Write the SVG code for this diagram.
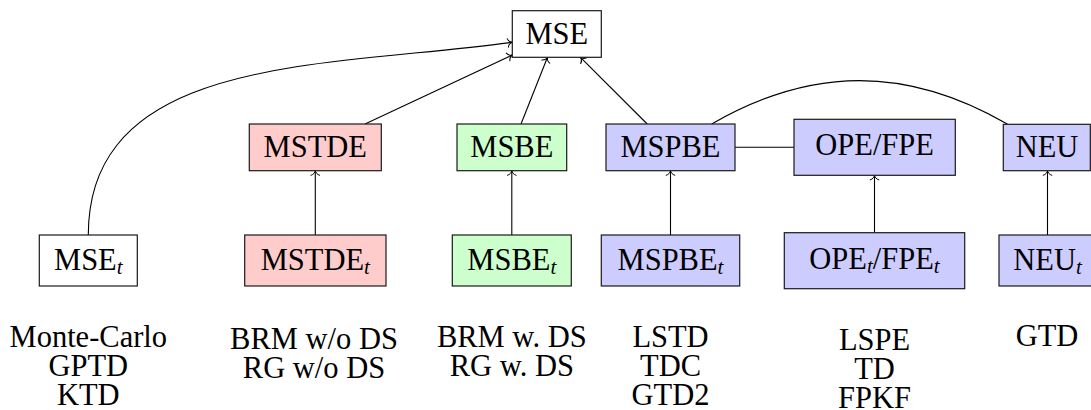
<svg xmlns="http://www.w3.org/2000/svg" width="1091" height="410" viewBox="0 0 1091 410">
  <defs>
    <!-- thin open arrow tip, like TikZ's default "to" -->
    <marker id="tip" markerUnits="userSpaceOnUse" markerWidth="14" markerHeight="14" viewBox="-7 -7 14 14" refX="0" refY="0" orient="auto" overflow="visible">
      <path d="M -4.6 -4.3 C -3.9 -1.6 -1.6 -0.35 0 0 C -1.6 0.35 -3.9 1.6 -4.6 4.3" fill="none" stroke="#000" stroke-width="1" stroke-linecap="round"/>
    </marker>
  </defs>
  <style>
    .box { stroke: #1a1a1a; stroke-width: 1.2; }
    .plain { fill: #ffffff; }
    .red { fill: #ffcccc; }
    .green { fill: #ccffcc; }
    .blue { fill: #ccccff; }
    text { font-family: "Liberation Serif", "Times New Roman", serif; font-size: 30.5px; fill: #000; text-anchor: middle; }
    .sub { font-style: italic; font-size: 21px; }
    .edge { fill: none; stroke: #000; stroke-width: 1.1; }
    .arrow { marker-end: url(#tip); }
  </style>

  <rect x="0" y="0" width="1091" height="410" fill="#ffffff"/>

  <!-- connectors -->
  <g id="connectors">
    <path class="edge arrow" d="M 88.3 235 C 88.3 53, 331.8 67.6, 512.3 42.3"/>
    <path class="edge arrow" d="M 365 124 L 512.3 55"/>
    <path class="edge arrow" d="M 521 124 L 547.5 57.3"/>
    <path class="edge arrow" d="M 647.2 124 L 580.5 57.3"/>
    <path class="edge arrow" d="M 315.3 235 L 315.3 170.7"/>
    <path class="edge arrow" d="M 511.8 235 L 511.8 170.7"/>
    <path class="edge arrow" d="M 670.5 235 L 670.5 170.7"/>
    <path class="edge arrow" d="M 874.5 232.7 L 874.5 175.3"/>
    <path class="edge arrow" d="M 1047.5 235 L 1047.5 170.7"/>
    <path class="edge" d="M 735 147.3 L 794 147.3"/>
    <path class="edge" d="M 711.7 124 C 811.9 66.1, 907.1 66.1, 1007.3 124"/>
  </g>

  <!-- top level -->
  <g id="mse">
    <rect class="box plain" x="512.3" y="10.7" width="89" height="46.6"/>
    <text x="556.8" y="44.3">MSE</text>
  </g>

  <!-- middle row -->
  <g id="mstde">
    <rect class="box red" x="249.3" y="124" width="132" height="46.7"/>
    <text x="315.3" y="157.3">MSTDE</text>
  </g>
  <g id="msbe">
    <rect class="box green" x="457" y="124" width="109.7" height="46.7"/>
    <text x="511.8" y="157.3">MSBE</text>
  </g>
  <g id="mspbe">
    <rect class="box blue" x="606" y="124" width="129" height="46.7"/>
    <text x="670.5" y="157.3">MSPBE</text>
  </g>
  <g id="opefpe">
    <rect class="box blue" x="794" y="119.3" width="161.3" height="56"/>
    <text x="874.6" y="155">OPE/FPE</text>
  </g>
  <g id="neu">
    <rect class="box blue" x="1003.3" y="124.3" width="87" height="46.4"/>
    <text x="1047" y="157.3">NEU</text>
  </g>

  <!-- bottom row -->
  <g id="mse-t">
    <rect class="box plain" x="39.3" y="235" width="98" height="51"/>
    <text x="88.3" y="269.5">MSE<tspan class="sub" dy="4.5">t</tspan></text>
  </g>
  <g id="mstde-t">
    <rect class="box red" x="244.7" y="235" width="141.3" height="51"/>
    <text x="315.3" y="269.5">MSTDE<tspan class="sub" dy="4.5">t</tspan></text>
  </g>
  <g id="msbe-t">
    <rect class="box green" x="452.3" y="235" width="119" height="51"/>
    <text x="511.8" y="269.5">MSBE<tspan class="sub" dy="4.5">t</tspan></text>
  </g>
  <g id="mspbe-t">
    <rect class="box blue" x="601.3" y="235" width="138.4" height="51"/>
    <text x="670.5" y="269.5">MSPBE<tspan class="sub" dy="4.5">t</tspan></text>
  </g>
  <g id="opefpe-t">
    <rect class="box blue" x="784.3" y="232.7" width="180.4" height="56"/>
    <text x="874.5" y="268.5">OPE<tspan class="sub" dy="4.5">t</tspan><tspan dy="-4.5">/FPE</tspan><tspan class="sub" dy="4.5">t</tspan></text>
  </g>
  <g id="neu-t">
    <rect class="box blue" x="999" y="235" width="98" height="51"/>
    <text x="1047.5" y="269.5">NEU<tspan class="sub" dy="4.5">t</tspan></text>
  </g>

  <!-- algorithm lists under each objective -->
  <g id="algos-mse">
    <text x="88.3" y="347">Monte-Carlo</text>
    <text x="88.3" y="376">GPTD</text>
    <text x="88.3" y="405">KTD</text>
  </g>
  <g id="algos-mstde">
    <text x="314" y="349">BRM w/o DS</text>
    <text x="314" y="378">RG w/o DS</text>
  </g>
  <g id="algos-msbe">
    <text x="511.8" y="347">BRM w. DS</text>
    <text x="511.8" y="376">RG w. DS</text>
  </g>
  <g id="algos-mspbe">
    <text x="670.5" y="347">LSTD</text>
    <text x="670.5" y="376">TDC</text>
    <text x="670.5" y="405">GTD2</text>
  </g>
  <g id="algos-opefpe">
    <text x="874.5" y="350">LSPE</text>
    <text x="874.5" y="379">TD</text>
    <text x="874.5" y="408">FPKF</text>
  </g>
  <g id="algos-neu">
    <text x="1047" y="346">GTD</text>
  </g>
</svg>
